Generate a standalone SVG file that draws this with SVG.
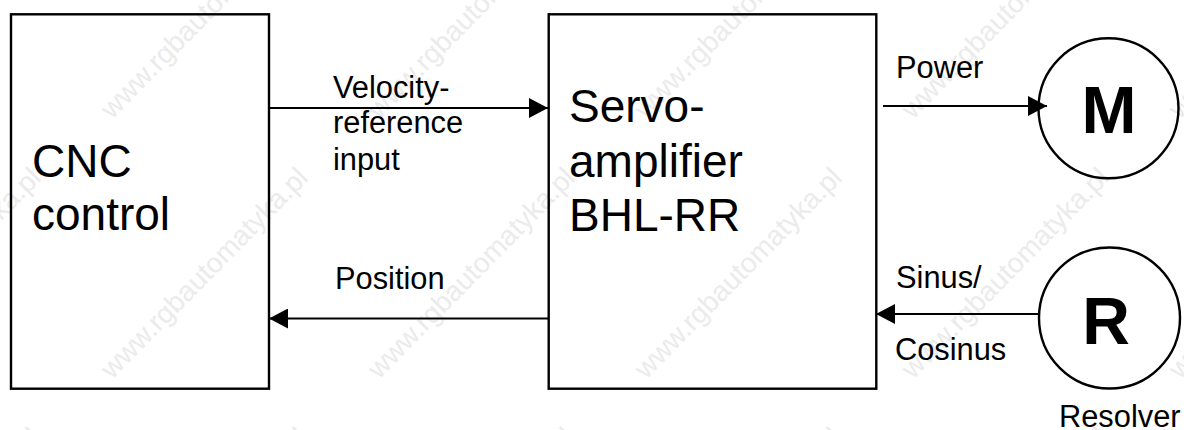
<svg xmlns="http://www.w3.org/2000/svg" width="1184" height="430" viewBox="0 0 1184 430">
<style>
text{font-family:"Liberation Sans",Arial,sans-serif;fill:#000}
.big{font-size:46px}
.lab{font-size:30.800px}
.sym{font-size:66px;font-weight:bold}
.wm{font-size:28px;fill:#ebebeb}
.box{fill:none;stroke:#000;stroke-width:2.4}
.con{fill:none;stroke:#000;stroke-width:2}
</style>
<defs>
<marker id="ah" markerUnits="userSpaceOnUse" markerWidth="20" markerHeight="20" refX="19" refY="10" orient="auto"><path d="M0 0L19 10L0 20Z" fill="#000"/></marker>
<text id="w" class="wm">www.rgbautomatyka.pl</text>
</defs>
<rect width="1184" height="430" fill="#fff"/>
<g id="watermarks">
<use href="#w" transform="translate(112,120) rotate(-45.500)"/>
<use href="#w" transform="translate(379,120) rotate(-45.500)"/>
<use href="#w" transform="translate(646,120) rotate(-45.500)"/>
<use href="#w" transform="translate(913,120) rotate(-45.500)"/>
<use href="#w" transform="translate(1180,120) rotate(-45.500)"/>
<use href="#w" transform="translate(-155,380) rotate(-45.500)"/>
<use href="#w" transform="translate(112,380) rotate(-45.500)"/>
<use href="#w" transform="translate(379,380) rotate(-45.500)"/>
<use href="#w" transform="translate(646,380) rotate(-45.500)"/>
<use href="#w" transform="translate(913,380) rotate(-45.500)"/>
<use href="#w" transform="translate(1180,380) rotate(-45.500)"/>
<use href="#w" transform="translate(-155,640) rotate(-45.500)"/>
<use href="#w" transform="translate(112,640) rotate(-45.500)"/>
<use href="#w" transform="translate(379,640) rotate(-45.500)"/>
<use href="#w" transform="translate(646,640) rotate(-45.500)"/>
<use href="#w" transform="translate(913,640) rotate(-45.500)"/>
<use href="#w" transform="translate(1180,640) rotate(-45.500)"/>
</g>
<g id="connectors">
<line class="con" x1="269" y1="108" x2="548" y2="108" marker-end="url(#ah)"/>
<line class="con" x1="548" y1="318.500" x2="269" y2="318.500" marker-end="url(#ah)"/>
<line class="con" x1="883" y1="106" x2="1047" y2="106" marker-end="url(#ah)"/>
<line class="con" x1="1038" y1="314" x2="876" y2="314" marker-end="url(#ah)"/>
</g>
<g id="cnc"><rect class="box" x="11" y="14.300" width="258" height="374.400"/><text class="big" x="32" y="176.500">CNC</text><text class="big" x="32" y="229.500">control</text></g>
<g id="servo"><rect class="box" x="548.700" y="14.300" width="327.600" height="374.400"/><text class="big" x="569" y="122">Servo-</text><text class="big" x="569" y="176.500">amplifier</text><text class="big" x="569" y="230.500">BHL-RR</text></g>
<g id="motor"><circle class="box" cx="1108.500" cy="108.300" r="70"/><text class="sym" x="1109" y="133" text-anchor="middle">M</text></g>
<g id="resolver"><circle class="box" cx="1109.500" cy="318" r="70.500"/><text class="sym" x="1106" y="344" text-anchor="middle">R</text><text class="lab" x="1059" y="426.500">Resolver</text></g>
<g id="labels">
<text class="lab" x="333" y="98">Velocity-</text><text class="lab" x="333" y="133">reference</text><text class="lab" x="333" y="169.500">input</text>
<text class="lab" x="335" y="288.500">Position</text>
<text class="lab" x="896" y="77.500">Power</text>
<text class="lab" x="896" y="287.500">Sinus/</text>
<text class="lab" x="895" y="359.500">Cosinus</text>
</g>
</svg>
